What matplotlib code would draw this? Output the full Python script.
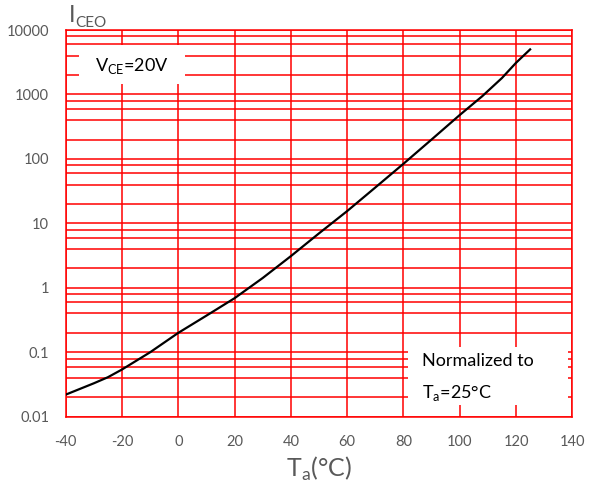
import matplotlib
matplotlib.use('Agg')
import matplotlib.pyplot as plt
from matplotlib.ticker import LogLocator, FixedLocator, NullFormatter
from matplotlib.patches import Rectangle

plt.rcParams['font.family'] = ['Lato', 'DejaVu Sans']
plt.rcParams['mathtext.fontset'] = 'custom'
plt.rcParams['mathtext.rm'] = 'Lato'
plt.rcParams['axes.unicode_minus'] = False

# Данные кривой
temp = [-40, -30, -25, -20, -10, 0, 10, 20, 30, 40, 50, 60, 70, 80, 90, 100, 108, 115, 120, 125]
iceo = [0.022, 0.033, 0.041, 0.054, 0.10, 0.20, 0.37, 0.69, 1.42, 3.1, 7.0, 15.5,
        36, 84, 200, 480, 940, 1800, 3100, 5000]

x_ticks = [-40, -20, 0, 20, 40, 60, 80, 100, 120, 140]
y_ticks = [0.01, 0.1, 1, 10, 100, 1000, 10000]
y_labels = ['0.01', '0.1', '1', '10', '100', '1000', '10000']

red = '#ff0000'
grey = '#595959'

fig = plt.figure(figsize=(5.95, 4.91), dpi=100)
ax = fig.add_axes([0.1104, 0.1513, 0.8515, 0.7876])

ax.plot(temp, iceo, color='black', linewidth=1.6, zorder=3)

ax.set_yscale('log')
ax.set_xlim(-40, 140)
ax.set_ylim(0.01, 10000)
ax.xaxis.set_major_locator(FixedLocator(x_ticks))
ax.yaxis.set_major_locator(FixedLocator(y_ticks))
ax.set_yticklabels(y_labels)
ax.yaxis.set_minor_locator(LogLocator(base=10, subs=[2, 4, 6, 8], numticks=20))
ax.yaxis.set_minor_formatter(NullFormatter())

ax.set_axisbelow(True)
ax.grid(True, which='major', color=red, linewidth=1.1)
ax.grid(True, which='minor', axis='y', color=red, linewidth=1.1)

for s in ax.spines.values():
    s.set_color(red)
    s.set_linewidth(1.1)

ax.tick_params(which='both', length=0, colors=grey, labelsize=10.5)
ax.tick_params(axis='y', pad=12)
ax.tick_params(axis='x', pad=13)

# подписи осей
ax.set_xlabel(r'T$_{\mathregular{a}}$(°C)', fontsize=18, color=grey, labelpad=4)
fig.text(0.115, 0.955, 'I', fontsize=17, color=grey, va='baseline', ha='left')
fig.text(0.126, 0.945, 'CEO', fontsize=11, color=grey, va='baseline', ha='left')

# белые плашки с текстом
ax.add_patch(Rectangle((0.026, 0.860), 0.210, 0.100, transform=ax.transAxes,
                       facecolor='white', edgecolor='none', zorder=1))
ax.text(0.13, 0.908, r'V$_{\mathregular{CE}}$=20V', transform=ax.transAxes,
        fontsize=13, ha='center', va='center', color='black', zorder=4)

ax.add_patch(Rectangle((0.676, 0.030), 0.315, 0.150, transform=ax.transAxes,
                       facecolor='white', edgecolor='none', zorder=1))
ax.text(0.703, 0.143, 'Normalized to', transform=ax.transAxes,
        fontsize=13, ha='left', va='center', color='black', zorder=4)
ax.text(0.703, 0.062, r'T$_{\mathregular{a}}$=25°C', transform=ax.transAxes,
        fontsize=13, ha='left', va='center', color='black', zorder=4)

plt.savefig('out.png', dpi=100)
